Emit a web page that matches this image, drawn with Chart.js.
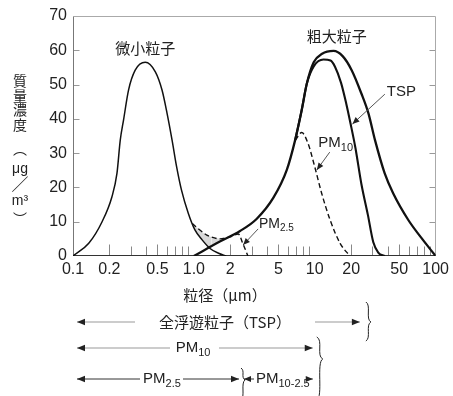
<!DOCTYPE html>
<html>
<head>
<meta charset="utf-8">
<script src="https://cdn.jsdelivr.net/npm/chart.js@4.4.1/dist/chart.umd.min.js"></script>
<style>
html, body { margin: 0; padding: 0; background: #fff; }
</style>
</head>
<body>
<canvas id="chart" width="453" height="396"></canvas>
<script>
// 粒径 (μm) tick labels
const xTicks = [0.1, 0.2, 0.5, 1, 2, 5, 10, 20, 50, 100];
const xTickLabels = ['0.1', '0.2', '0.5', '1.0', '2', '5', '10', '20', '50', '100'];
const yTicks = [0, 10, 20, 30, 40, 50, 60, 70];

// 微小粒子
const fineSize = [0.1, 0.135, 0.174, 0.21, 0.231, 0.246, 0.262, 0.288, 0.327, 0.396, 0.48, 0.545, 0.6, 0.66, 0.72, 0.79, 0.9, 1.02, 1.17, 1.36, 1.6, 1.85];
const fineMass = [0, 3.7, 10, 17.3, 24.1, 33.8, 39.7, 48.4, 54.2, 56.5, 53.7, 48.4, 41.6, 33.8, 26, 19.2, 12.4, 7.6, 4.7, 2.2, 0.8, 0];

// TSP (粗大粒子)
const tspSize = [1.0, 1.64, 2.41, 3.3, 4.55, 5.87, 6.88, 7.8, 8.6, 9.8, 11.5, 14.3, 17.0, 20.2, 24.3, 27.8, 31.5, 37.9, 44.5, 59.4, 76.5, 100];
const tspMass = [0, 4.2, 7.3, 10.8, 17.0, 25.1, 33.8, 42.6, 50.3, 56.5, 59.0, 59.8, 58.3, 54.2, 47.4, 41.6, 33.8, 24.1, 18.3, 10.5, 5.2, 0];

// PM10 (solid)
const pm10Size = [6.88, 7.8, 8.6, 9.8, 11.8, 13.5, 14.7, 16.5, 18.2, 19.8, 21.7, 24.3, 27.5, 30.5, 33.5, 38];
const pm10Mass = [33.8, 42.6, 50.3, 55.3, 57.3, 57.0, 55.2, 50.5, 44.5, 38.5, 31.5, 21.0, 12.0, 4.0, 1.0, 0];

// PM10 (dashed)
const pm10dSize = [6.9, 7.8, 8.8, 10.0, 11.4, 13.4, 16.2, 19.5];
const pm10dMass = [33.8, 36, 32.8, 26, 18.3, 10.5, 3.7, 0];

// PM2.5 (dashed)
const pm25Size = [0.97, 1.1, 1.28, 1.4, 1.64, 2.0, 2.33, 2.55, 2.8];
const pm25Mass = [9.5, 7.8, 6.1, 5.5, 5.0, 5.6, 6.4, 3.5, 0];

const F = '"Liberation Sans", Arial, "Noto Sans CJK JP", sans-serif';
const CJK = '"Noto Sans CJK JP", "Liberation Sans", sans-serif';

function pts(xs, ys) {
    return xs.map((v, i) => ({ x: v, y: ys[i] }));
}
const pm25Pts = pts(pm25Size, pm25Mass);

function arrow(ctx, x1, y1, x2, y2, color, head) {
    ctx.strokeStyle = color;
    ctx.lineWidth = 1;
    ctx.beginPath();
    ctx.moveTo(x1, y1);
    ctx.lineTo(x2, y2);
    ctx.stroke();
    const a = Math.atan2(y2 - y1, x2 - x1);
    const c = Math.cos(a), s = Math.sin(a), w = head * 0.42;
    ctx.fillStyle = '#222';
    ctx.beginPath();
    ctx.moveTo(x2, y2);
    ctx.lineTo(x2 - head * c + w * s, y2 - head * s - w * c);
    ctx.lineTo(x2 - head * c - w * s, y2 - head * s + w * c);
    ctx.closePath();
    ctx.fill();
}

function brace(ctx, x, y1, yc, y2, w) {
    ctx.strokeStyle = '#222';
    ctx.lineWidth = 1;
    ctx.beginPath();
    ctx.moveTo(x, y1);
    ctx.bezierCurveTo(x + w * 1.1, y1 + 3, x - w * 0.1, yc - 3, x + w, yc);
    ctx.bezierCurveTo(x - w * 0.1, yc + 3, x + w * 1.1, y2 - 3, x, y2);
    ctx.stroke();
}

function drawPM(ctx, x, y, sub, size, align) {
    const subSize = Math.round(size * 0.7);
    ctx.font = size + 'px ' + F;
    const w1 = ctx.measureText('PM').width;
    ctx.font = subSize + 'px ' + F;
    const w2 = ctx.measureText(sub).width;
    const x0 = align === 'center' ? x - (w1 + w2) / 2 : x;
    ctx.textAlign = 'left';
    ctx.textBaseline = 'middle';
    ctx.fillStyle = '#222';
    ctx.font = size + 'px ' + F;
    ctx.fillText('PM', x0, y);
    ctx.font = subSize + 'px ' + F;
    ctx.fillText(sub, x0 + w1, y + size * 0.3);
}

const frame = {
    id: 'frame',
    beforeDatasetsDraw(chart) {
        const { ctx, chartArea: a, scales: { x, y } } = chart;
        const L = Math.round(a.left) + 0.5, R = Math.round(a.right) - 0.5;
        const T = Math.round(a.top) + 0.5, B = Math.round(a.bottom) - 0.5;
        ctx.save();
        ctx.lineWidth = 1;
        // y ticks inside, both sides
        ctx.strokeStyle = '#999';
        yTicks.slice(1, -1).forEach(v => {
            const py = Math.round(y.getPixelForValue(v)) + 0.5;
            ctx.beginPath();
            ctx.moveTo(L, py); ctx.lineTo(L + 6, py);
            ctx.moveTo(R, py); ctx.lineTo(R - 6, py);
            ctx.stroke();
        });
        // x minor ticks inside
        ctx.strokeStyle = '#888';
        [0.1, 1, 10].forEach(d => {
            for (let k = 2; k <= 9; k++) {
                const px = Math.round(x.getPixelForValue(k * d)) + 0.5;
                const len = (k === 2 || k === 5) ? 11 : 9;
                ctx.beginPath();
                ctx.moveTo(px, B); ctx.lineTo(px, B - len);
                ctx.stroke();
            }
        });
        // frame
        ctx.strokeStyle = '#aaa';
        ctx.beginPath();
        ctx.moveTo(L, T); ctx.lineTo(R, T); ctx.lineTo(R, B);
        ctx.stroke();
        ctx.strokeStyle = '#777';
        ctx.beginPath();
        ctx.moveTo(L, T); ctx.lineTo(L, B);
        ctx.stroke();
        ctx.strokeStyle = '#333';
        ctx.beginPath();
        ctx.moveTo(L, B); ctx.lineTo(R, B);
        ctx.stroke();
        ctx.restore();
    }
};

const annotate = {
    id: 'annotate',
    afterDraw(chart) {
        const { ctx, chartArea: a, scales: { x, y } } = chart;
        const P = (v, m) => [x.getPixelForValue(v), y.getPixelForValue(m)];
        ctx.save();
        ctx.fillStyle = '#222';
        ctx.textBaseline = 'middle';

        // curve labels
        ctx.textAlign = 'center';
        ctx.font = '15px ' + CJK;
        let p = P(0.396, 60.6);
        ctx.fillText('微小粒子', p[0], p[1]);
        p = P(15.2, 64);
        ctx.fillText('粗大粒子', p[0], p[1]);

        ctx.textAlign = 'left';
        ctx.font = '15px ' + F;
        p = P(39.4, 47.9);
        ctx.fillText('TSP', p[0], p[1]);
        let s = P(38, 47.2), e = P(20.5, 38.5);
        arrow(ctx, s[0], s[1], e[0], e[1], '#555', 7);

        p = P(10.7, 32.9);
        drawPM(ctx, p[0], p[1], '10', 15, 'left');
        s = P(13.3, 30.3); e = P(10.4, 25.1);
        arrow(ctx, s[0], s[1], e[0], e[1], '#555', 7);

        p = P(3.45, 9.2);
        drawPM(ctx, p[0], p[1], '2.5', 14, 'left');
        s = P(3.4, 7.9); e = P(2.55, 3.2);
        arrow(ctx, s[0], s[1], e[0], e[1], '#555', 7);

        // y axis title, stacked vertically
        ctx.textAlign = 'center';
        ctx.fillStyle = '#222';
        const yTitle = [['質', 81], ['量', 95.5], ['濃', 110], ['度', 124.5]];
        ctx.font = '14px ' + CJK;
        yTitle.forEach(([t, py]) => ctx.fillText(t, 20, py));
        ctx.fillText('︵', 20, 149);
        ctx.fillText('︶', 20, 219);
        ctx.font = '14px ' + F;
        ctx.fillText('μg', 20, 169);
        ctx.fillText('m³', 20, 201);
        ctx.font = '17px ' + CJK;
        ctx.fillText('／', 20, 185);

        // x axis title
        ctx.font = '15px ' + CJK;
        ctx.fillText('粒径（μm）', 225, 295);

        // size ranges below the axis
        const x0 = a.left + 4;
        const r1 = 322, r2 = 348, r3 = 379;
        ctx.font = '15px ' + CJK;
        ctx.fillText('全浮遊粒子（TSP）', 225, r1);
        arrow(ctx, 135, r1, x0, r1, '#999', 8);
        const xTsp = x.getPixelForValue(25);
        arrow(ctx, 315, r1, xTsp - 3, r1, '#999', 8);
        brace(ctx, xTsp + 3, 302, r1, 341, 5);

        drawPM(ctx, 193, r2, '10', 15, 'center');
        arrow(ctx, 170, r2, x0, r2, '#999', 8);
        const x10 = x.getPixelForValue(10);
        arrow(ctx, 219, r2, x10 - 2, r2, '#999', 8);
        brace(ctx, x10 + 2, 337, 359, 400, 6);

        drawPM(ctx, 162, r3, '2.5', 15, 'center');
        arrow(ctx, 140, r3, x0, r3, '#333', 8);
        const x25 = x.getPixelForValue(2.5);
        arrow(ctx, 183, r3, x25 - 3, r3, '#333', 8);
        brace(ctx, x25 - 1, 368, 380, 400, 4);
        arrow(ctx, 254, r3, x25 + 2, r3, '#333', 7);
        drawPM(ctx, 256, r3, '10-2.5', 15, 'left');
        arrow(ctx, 306, r3, x10 - 2, r3, '#333', 7);

        ctx.restore();
    }
};

const lineBase = {
    showLine: true,
    fill: false,
    borderColor: '#111',
    pointRadius: 0,
    cubicInterpolationMode: 'monotone'
};

new Chart(document.getElementById('chart'), {
    type: 'scatter',
    data: {
        datasets: [
            { ...lineBase, label: '微小粒子', data: pts(fineSize, fineMass), borderWidth: 1.5 },
            { ...lineBase, label: 'TSP', data: pts(tspSize, tspMass), borderWidth: 2.3 },
            { ...lineBase, label: 'PM10', data: pts(pm10Size, pm10Mass), borderWidth: 2.1 },
            { ...lineBase, label: 'PM10 dashed', data: pts(pm10dSize, pm10dMass), borderWidth: 1.4, borderDash: [5, 3] },
            { ...lineBase, label: 'PM2.5', data: pm25Pts, borderWidth: 1.4, borderDash: [5, 3] },
            { ...lineBase, label: 'shadeA', data: pm25Pts.filter(d => d.x <= 1.4), borderWidth: 0, fill: 0, backgroundColor: '#d9d9d9' },
            { ...lineBase, label: 'shadeB', data: pm25Pts.filter(d => d.x >= 1.4 && d.x <= 1.64), borderWidth: 0, fill: 1, backgroundColor: '#d9d9d9' }
        ]
    },
    options: {
        responsive: false,
        animation: false,
        devicePixelRatio: 1,
        layout: { padding: { left: 0, right: 17, top: 16, bottom: 0 } },
        plugins: {
            legend: { display: false },
            tooltip: { enabled: false }
        },
        scales: {
            x: {
                type: 'logarithmic',
                min: 0.1,
                max: 100,
                grid: { display: false, drawTicks: false },
                border: { display: false },
                afterBuildTicks: scale => { scale.ticks = xTicks.map(v => ({ value: v })); },
                afterFit: scale => { scale.height = 140; },
                ticks: {
                    autoSkip: false,
                    maxRotation: 0,
                    padding: 4,
                    color: '#222',
                    font: { family: F, size: 16 },
                    callback: v => {
                        const i = xTicks.indexOf(v);
                        return i >= 0 ? xTickLabels[i] : '';
                    }
                }
            },
            y: {
                min: 0,
                max: 70,
                grid: { display: false, drawTicks: false },
                border: { display: false },
                afterFit: scale => { scale.width = 73; },
                ticks: {
                    stepSize: 10,
                    padding: 6,
                    color: '#222',
                    font: { family: F, size: 16 }
                }
            }
        }
    },
    plugins: [frame, annotate]
});
</script>
</body>
</html>
